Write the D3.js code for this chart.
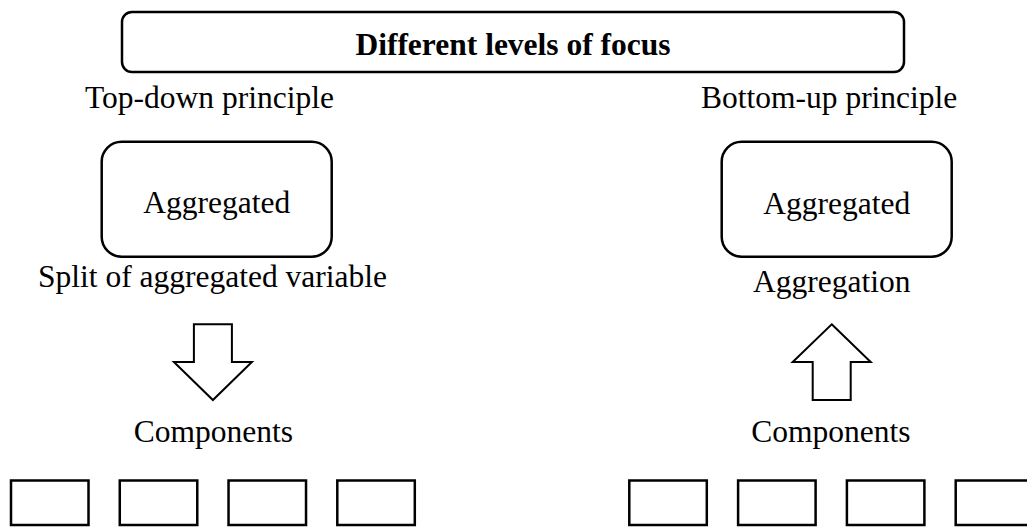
<!DOCTYPE html>
<html>
<head>
<meta charset="utf-8">
<script src="https://cdn.jsdelivr.net/npm/d3@7"></script>
<style>
  body { margin: 0; background: #fff; }
  text { font-family: "Liberation Serif", "Times New Roman", serif; fill: #000; }
</style>
</head>
<body>
<div id="chart"></div>
<script>
var pic_width = 1027,
    pic_height = 527,
    font_size = 31.5;

// texts of the diagram
var title = 'Different levels of focus'
var principles = ['Top-down principle', 'Bottom-up principle']
var topLabels = ['Aggregated', 'Aggregated']
var actions = ['Split of aggregated variable', 'Aggregation']
var bottomLabels = ['Components', 'Components']
var directions = ['down', 'up']
var components = [0, 1, 2, 3] // four component boxes under each side

var svg = d3.select('#chart').append('svg')
    .attr('width', pic_width)
    .attr('height', pic_height)
    .style('background', '#fff')

// title box
svg.append('rect')
    .attr('x', 122).attr('y', 12)
    .attr('width', 782).attr('height', 60)
    .attr('rx', 10)
    .style('fill', 'none').style('stroke', '#000').style('stroke-width', 2.5)

svg.append('text')
    .attr('x', 513).attr('y', 55)
    .attr('text-anchor', 'middle')
    .style('font-size', font_size + 'px')
    .style('font-weight', 'bold')
    .text(title)

// one column per principle: left (top-down), right (bottom-up)
var sides = [
    { principleX: 85, boxX: 101.7, arrowX: 212.9, compRange: [11, 337.3], aggY: 213, actY: 287 },
    { principleX: 701, boxX: 721.7, arrowX: 831.7, compRange: [629.3, 955.7], aggY: 214, actY: 292 }
]

sides.forEach(function(s, i) {
    var g = svg.append('g')
    var cx = s.boxX + 115

    g.append('text')
        .attr('x', s.principleX).attr('y', 108)
        .style('font-size', font_size + 'px')
        .text(principles[i])

    g.append('rect')
        .attr('x', s.boxX).attr('y', 141.7)
        .attr('width', 230).attr('height', 115)
        .attr('rx', 20)
        .style('fill', 'none').style('stroke', '#000').style('stroke-width', 2.5)

    g.append('text')
        .attr('x', cx).attr('y', s.aggY)
        .attr('text-anchor', 'middle')
        .style('font-size', font_size + 'px')
        .text(topLabels[i])

    g.append('text')
        .attr('x', i == 0 ? 212.5 : 831.7).attr('y', s.actY)
        .attr('text-anchor', 'middle')
        .style('font-size', font_size + 'px')
        .text(actions[i])

    // block arrow, shaft 38 wide, head 78 wide, 76 tall overall
    var a = s.arrowX, top = 324.3, mid = 362, bot = 400
    var pts = directions[i] == 'down'
        ? [[a - 19, top], [a + 19, top], [a + 19, mid], [a + 39, mid], [a, bot], [a - 39, mid], [a - 19, mid]]
        : [[a, top], [a + 39, mid], [a + 19, mid], [a + 19, bot], [a - 19, bot], [a - 19, mid], [a - 39, mid]]
    g.append('path')
        .attr('d', d3.line()(pts) + 'Z')
        .style('fill', '#fff').style('stroke', '#000').style('stroke-width', 2)
        .style('stroke-linejoin', 'miter')

    g.append('text')
        .attr('x', i == 0 ? 213.5 : 831).attr('y', 442)
        .attr('text-anchor', 'middle')
        .style('font-size', font_size + 'px')
        .text(bottomLabels[i])

    var xScale = d3.scaleLinear().domain([0, 3]).range(s.compRange)
    g.selectAll('rect.comp').data(components)
        .enter().append('rect')
        .attr('class', 'comp')
        .attr('x', function(d) { return xScale(d); })
        .attr('y', 480.5)
        .attr('width', 77.5).attr('height', 44.5)
        .style('fill', 'none').style('stroke', '#000').style('stroke-width', 2.5)
})
</script>
</body>
</html>
